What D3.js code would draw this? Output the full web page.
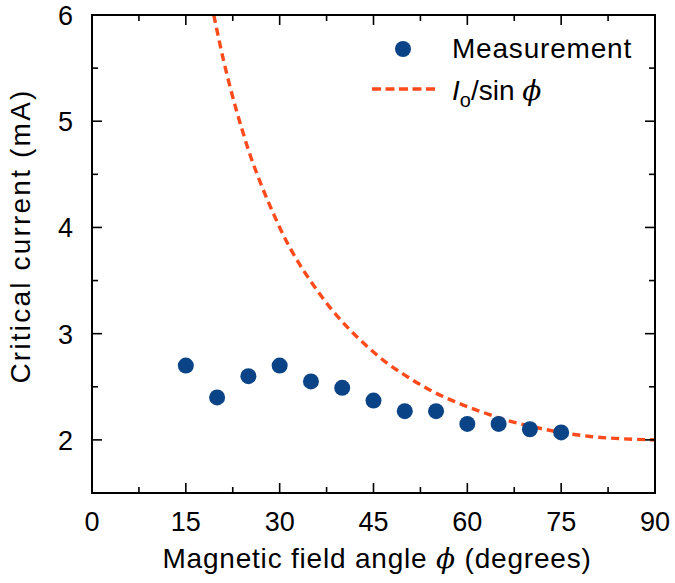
<!DOCTYPE html>
<html><head><meta charset="utf-8">
<script src="https://cdn.jsdelivr.net/npm/d3@7"></script>
<style>body{margin:0;background:#fff}svg{display:block}text{font-family:"Liberation Sans",Arial,sans-serif;fill:#000}</style>
</head><body><svg id="c" width="675" height="583"></svg>
<script>
const angles = [15,20,25,30,35,40,45,50,55,60,65,70,75];
const current = [2.70,2.40,2.60,2.70,2.55,2.49,2.37,2.27,2.27,2.15,2.15,2.10,2.07];
const fitAngles = [19.47,20,21,22,23,24,25,27,29,31,33,35,38,41,44,47,50,54,58,62,66,70,75,80,85,90];
const fitValues = [6.00,5.85,5.58,5.34,5.12,4.92,4.73,4.41,4.13,3.88,3.67,3.49,3.25,3.05,2.88,2.73,2.61,2.47,2.36,2.27,2.19,2.13,2.07,2.03,2.01,2.00];
const xTicks = [0,15,30,45,60,75,90];
const yTicks = [2,3,4,5,6];

const svg = d3.select("#c");
const L=92,R=655,T=15,B=493;
const x = d3.scaleLinear().domain([0,90]).range([L,R]);
const y = d3.scaleLinear().domain([1.5,6]).range([B,T]);

const g = svg.append("g");
svg.append("clipPath").attr("id","clp").append("rect").attr("x",L).attr("y",T).attr("width",R-L).attr("height",B-T);
g.append("path").datum(fitAngles.map((a,i)=>[a,fitValues[i]]))
 .attr("clip-path","url(#clp)")
 .attr("d",d3.line().x(d=>x(d[0])).y(d=>y(d[1])).curve(d3.curveMonotoneX))
 .attr("fill","none").attr("stroke","#ff4a1c").attr("stroke-width",3.4).attr("stroke-dasharray","8,5");
g.selectAll("circle.m").data(angles).join("circle").attr("class","m")
 .attr("cx",d=>x(d)).attr("cy",(d,i)=>y(current[i])).attr("r",8).attr("fill","#0b4486");

svg.append("rect").attr("x",L).attr("y",T).attr("width",R-L).attr("height",B-T).attr("fill","none").attr("stroke","#000").attr("stroke-width",2);

const xMinor = d3.range(7.5,90,15);
const yMinor = [2.5,3.5,4.5,5.5];
const tk = svg.append("g").attr("stroke","#000").attr("stroke-width",1.6);
xTicks.forEach(v=>{tk.append("line").attr("x1",x(v)).attr("x2",x(v)).attr("y1",B).attr("y2",B-10);
  tk.append("line").attr("x1",x(v)).attr("x2",x(v)).attr("y1",T).attr("y2",T+10);});
xMinor.forEach(v=>{tk.append("line").attr("x1",x(v)).attr("x2",x(v)).attr("y1",B).attr("y2",B-6);
  tk.append("line").attr("x1",x(v)).attr("x2",x(v)).attr("y1",T).attr("y2",T+6);});
yTicks.forEach(v=>{tk.append("line").attr("y1",y(v)).attr("y2",y(v)).attr("x1",L).attr("x2",L+10);
  tk.append("line").attr("y1",y(v)).attr("y2",y(v)).attr("x1",R).attr("x2",R-10);});
yMinor.forEach(v=>{tk.append("line").attr("y1",y(v)).attr("y2",y(v)).attr("x1",L).attr("x2",L+6);
  tk.append("line").attr("y1",y(v)).attr("y2",y(v)).attr("x1",R).attr("x2",R-6);});

svg.selectAll("text.xt").data(xTicks).join("text").attr("class","xt")
 .attr("x",d=>x(d)).attr("y",531).attr("text-anchor","middle").attr("font-size",27).text(d=>d);
svg.selectAll("text.yt").data(yTicks).join("text").attr("class","yt")
 .attr("x",L-19).attr("y",d=>y(d)+10).attr("text-anchor","end").attr("font-size",27).text(d=>d);

const xt = svg.append("text").attr("x",377).attr("y",568).attr("text-anchor","middle").attr("font-size",28).attr("letter-spacing",0.8);
xt.append("tspan").text("Magnetic field angle ");
xt.append("tspan").attr("font-family","DejaVu Serif").attr("font-style","italic").text("ϕ");
xt.append("tspan").text(" (degrees)");
svg.append("text").attr("transform","translate(30,236) rotate(-90)").attr("text-anchor","middle").attr("font-size",28).attr("letter-spacing",2.2).text("Critical current (mA)");

svg.append("circle").attr("cx",403).attr("cy",49).attr("r",8).attr("fill","#0b4486");
svg.append("text").attr("x",452).attr("y",58).attr("font-size",28).attr("letter-spacing",0.8).text("Measurement");
svg.append("line").attr("x1",372).attr("x2",436).attr("y1",89).attr("y2",89).attr("stroke","#ff4a1c").attr("stroke-width",3.4).attr("stroke-dasharray","9,4.5");
const lt = svg.append("text").attr("x",452).attr("y",100).attr("font-size",28);
lt.append("tspan").attr("font-style","italic").text("I");
lt.append("tspan").attr("font-size",20).attr("dy",7).text("o");
lt.append("tspan").attr("dy",-7).text("/sin ");
lt.append("tspan").attr("font-family","DejaVu Serif").attr("font-style","italic").text("ϕ");
</script></body></html>
